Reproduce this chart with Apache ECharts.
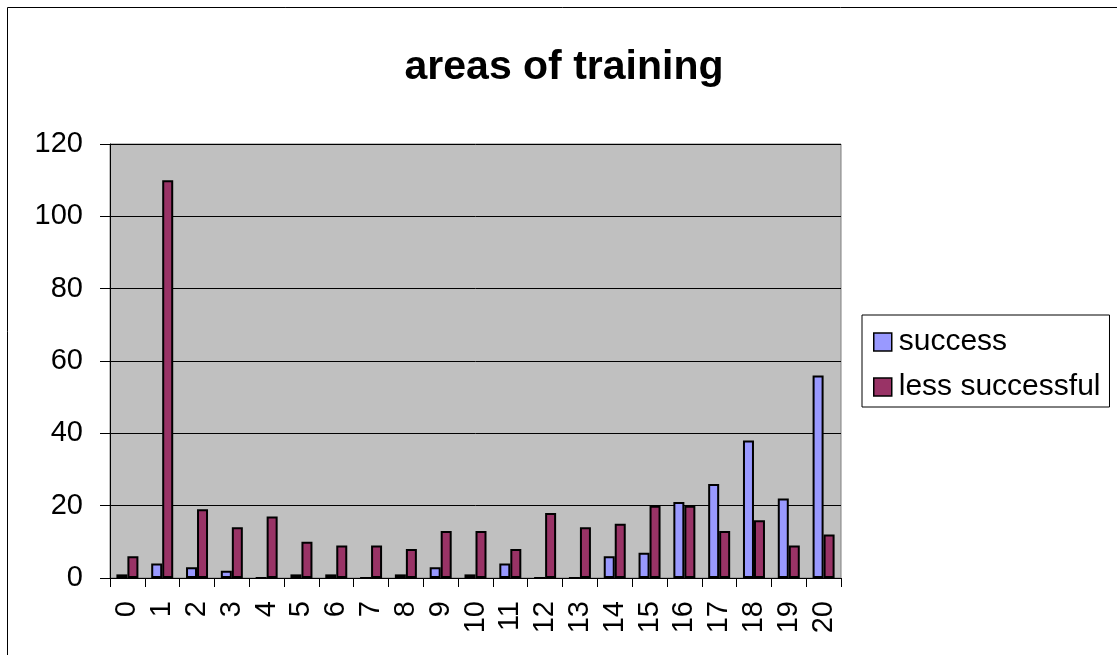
<!DOCTYPE html>
<html>
<head>
<meta charset="utf-8">
<script src="https://cdn.jsdelivr.net/npm/echarts@6/dist/echarts.min.js"></script>
<style>
  html, body { margin: 0; padding: 0; background: #fff; }
  #chart { width: 1117px; height: 655px; }
</style>
</head>
<body>
<div id="chart"></div>
<script>
// categories along the x axis
const categories = ['0', '1', '2', '3', '4', '5', '6', '7', '8', '9', '10',
  '11', '12', '13', '14', '15', '16', '17', '18', '19', '20'];

// values
const successValues = [1, 4, 3, 2, 0, 1, 1, 0, 1, 3, 1, 4, 0, 0, 6, 7, 21, 26, 38, 22, 56];
const lessSuccessfulValues = [6, 110, 19, 14, 17, 10, 9, 9, 8, 13, 13, 8, 18, 14, 15, 20, 20, 13, 16, 9, 12];

const yTicks = { min: 0, max: 120, interval: 20 };

const chart = echarts.init(document.getElementById('chart'), null, { renderer: 'canvas' });

const font = 'Liberation Sans, Arial, sans-serif';

chart.setOption({
  backgroundColor: '#fff',
  animation: false,
  title: {
    text: 'areas of training',
    left: 559,
    top: 42,
    textAlign: 'center',
    textStyle: { fontFamily: font, fontSize: 41, fontWeight: 'bold', color: '#000' },
  },
  // outer frame of the chart
  graphic: [{
    type: 'rect',
    shape: { x: 7.5, y: 7.5, width: 1200, height: 700 },
    style: { fill: 'none', stroke: '#000', lineWidth: 1 },
    silent: true,
  }],
  legend: {
    orient: 'vertical',
    left: 862,
    top: 315,
    padding: [12, 9, 5, 11],
    itemGap: 15,
    itemWidth: 18,
    itemHeight: 18,
    borderColor: '#000',
    borderWidth: 1,
    backgroundColor: '#fff',
    textStyle: { fontFamily: font, fontSize: 30, color: '#000', padding: [0, 0, 0, 2] },
    icon: 'rect',
    itemStyle: { borderColor: '#000', borderWidth: 1.5 },
    data: ['success', 'less successful'],
  },
  grid: {
    left: 110,
    right: 276,
    top: 144,
    bottom: 77,
    show: true,
    backgroundColor: '#c0c0c0',
    borderColor: '#808080',
    borderWidth: 1,
  },
  xAxis: {
    type: 'category',
    data: categories,
    boundaryGap: true,
    axisLine: { show: true, lineStyle: { color: '#000', width: 1 } },
    axisTick: { show: true, length: 9, alignWithLabel: false, lineStyle: { color: '#000' } },
    axisLabel: {
      interval: 0,
      rotate: 90,
      margin: 23,
      color: '#000',
      fontFamily: font,
      fontSize: 29,
    },
    splitLine: { show: false },
  },
  yAxis: {
    type: 'value',
    min: yTicks.min,
    max: yTicks.max,
    interval: yTicks.interval,
    axisLine: { show: true, lineStyle: { color: '#000', width: 1 } },
    axisTick: { show: true, length: 10, lineStyle: { color: '#000' } },
    axisLabel: { color: '#000', fontFamily: font, fontSize: 29, margin: 27 },
    splitLine: { show: true, lineStyle: { color: '#000', width: 1 } },
  },
  series: [
    {
      name: 'success',
      type: 'bar',
      data: successValues,
      barWidth: 11,
      barGap: '0%',
      itemStyle: { color: '#9999ff', borderColor: '#000', borderWidth: 2 },
    },
    {
      name: 'less successful',
      type: 'bar',
      data: lessSuccessfulValues,
      barWidth: 11,
      barGap: '0%',
      itemStyle: { color: '#993366', borderColor: '#000', borderWidth: 2 },
    },
  ],
});
</script>
</body>
</html>
